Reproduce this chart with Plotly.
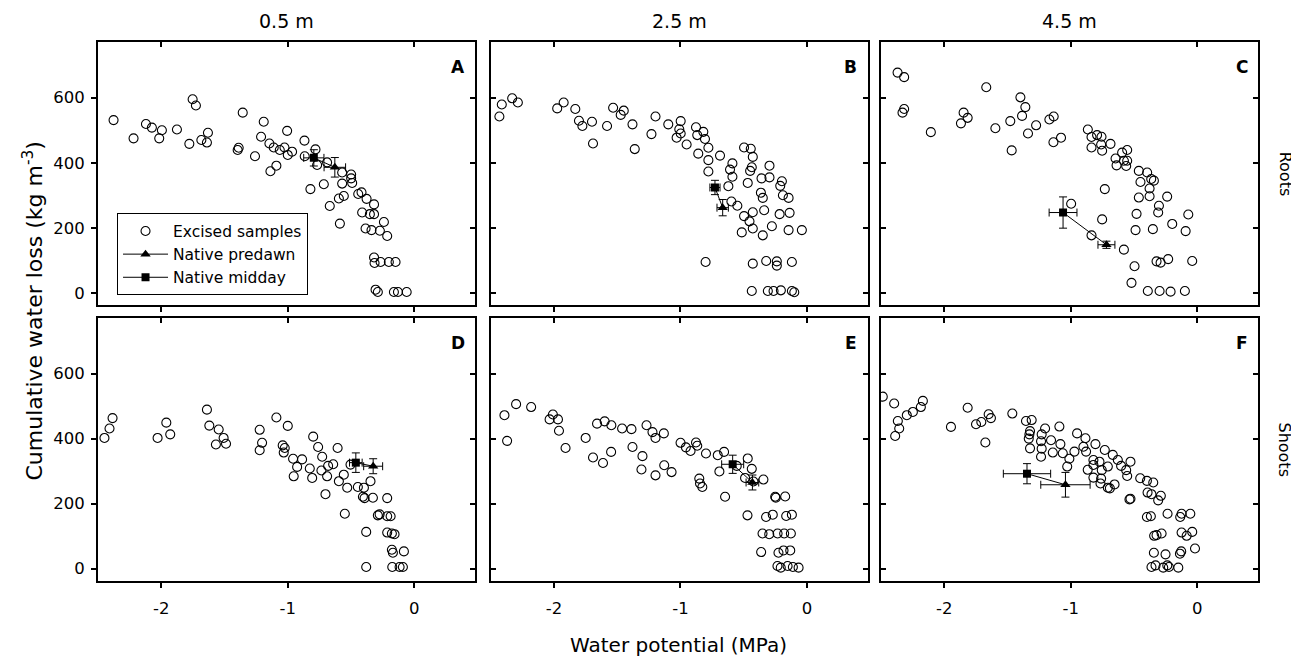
import plotly.graph_objects as go

# ---------------- data (water potential MPa, cumulative water loss kg m-3) -------------
A_psi = [-2.377,-2.219,-2.121,-2.074,-1.995,-2.016,-1.876,-1.752,-1.726,-1.778,-1.683,-1.631,-1.639,
         -1.356,-1.396,-1.388,-1.259,-1.190,-1.211,-1.005,-1.145,-1.111,-1.063,-1.026,-1.000,-0.966,
         -1.137,-1.090,-0.868,-0.781,-0.866,-0.821,-0.768,-0.715,-0.668,-0.689,-0.588,-0.596,-0.557,
         -0.570,-0.570,-0.499,-0.499,-0.491,-0.443,-0.417,-0.377,-0.412,-0.318,-0.351,-0.318,-0.385,
         -0.338,-0.272,-0.240,-0.214,-0.318,-0.314,-0.266,-0.201,-0.148,-0.306,-0.288,-0.161,-0.129,-0.060]
A_loss = [531,475,519,508,500,475,502,595,576,458,470,492,462,554,439,446,420,526,480,498,459,447,439,447,
          424,434,374,391,468,441,420,319,393,334,267,401,213,290,298,370,336,364,352,338,304,309,289,247,
          272,242,242,198,193,191,218,175,109,92,95,95,95,10,3,3,3,3]

B_psi = [-2.431,-2.412,-2.330,-2.285,-1.974,-1.923,-1.831,-1.802,-1.775,-1.699,-1.691,-1.580,-1.532,-1.472,
         -1.448,-1.379,-1.361,-1.229,-1.197,-1.096,-0.998,-1.009,-0.998,-1.030,-0.951,-0.877,-0.867,-0.819,
         -0.806,-0.779,-0.859,-0.779,-0.779,-0.687,-0.589,-0.608,-0.589,-0.621,-0.597,-0.550,-0.497,-0.444,
         -0.428,-0.436,-0.449,-0.468,-0.359,-0.296,-0.296,-0.364,-0.349,-0.338,-0.211,-0.198,-0.190,-0.145,
         -0.497,-0.454,-0.428,-0.428,-0.515,-0.349,-0.277,-0.216,-0.137,-0.145,-0.040,-0.801,-0.428,-0.322,
         -0.238,-0.238,-0.119,-0.436,-0.309,-0.264,-0.206,-0.119,-0.100]
B_loss = [542,579,598,585,567,585,565,529,513,526,459,513,569,547,560,518,442,488,542,518,528,503,490,477,
          456,509,485,495,473,446,428,408,373,422,398,379,357,328,281,268,447,443,418,386,375,338,352,355,
          391,308,292,254,329,343,300,292,236,220,248,198,186,177,205,242,246,193,193,95,90,98,97,84,95,
          6,6,6,8,6,2]

C_psi = [-2.369,-2.317,-2.317,-2.330,-2.106,-1.868,-1.847,-1.815,-1.668,-1.596,-1.478,-1.467,-1.398,-1.359,
         -1.385,-1.338,-1.274,-1.169,-1.135,-1.137,-1.077,-0.865,-0.836,-0.836,-0.792,-0.757,-0.760,-0.752,
         -0.686,-0.646,-0.638,-0.594,-0.554,-0.580,-0.562,-0.554,-0.462,-0.396,-0.449,-0.364,-0.343,-0.377,
         -0.462,-0.377,-0.238,-0.303,-0.309,-0.480,-0.488,-0.351,-0.198,-0.071,-0.092,-0.731,-0.997,-0.752,
         -0.836,-0.580,-0.496,-0.520,-0.322,-0.290,-0.230,-0.040,-0.391,-0.298,-0.211,-0.098]
C_loss = [677,663,565,554,494,521,554,538,632,506,528,438,601,571,544,490,515,533,542,463,477,502,479,447,
          485,480,456,437,458,413,392,431,439,406,390,406,375,370,341,350,345,321,293,297,296,268,247,243,
          193,196,212,241,190,319,274,226,177,133,82,31,97,93,104,98,6,6,4,6]

D_psi = [-2.449,-2.409,-2.385,-2.029,-1.960,-1.929,-1.639,-1.620,-1.546,-1.507,-1.568,-1.488,-1.222,-1.203,
         -1.222,-1.090,-1.000,-1.040,-1.024,-1.032,-0.958,-0.887,-0.926,-0.953,-0.826,-0.807,-0.799,-0.760,
         -0.728,-0.734,-0.681,-0.689,-0.641,-0.702,-0.606,-0.596,-0.557,-0.530,-0.504,-0.549,-0.446,-0.398,
         -0.406,-0.393,-0.327,-0.346,-0.380,-0.380,-0.288,-0.274,-0.214,-0.214,-0.187,-0.214,-0.177,-0.156,
         -0.177,-0.169,-0.082,-0.174,-0.116,-0.090]
D_loss = [402,431,463,402,449,413,489,440,428,402,382,384,427,387,364,465,439,379,371,357,338,336,313,284,
          308,279,406,374,344,302,316,284,321,229,371,269,289,249,320,169,251,249,221,217,218,269,113,5,
          164,167,217,161,161,111,108,106,58,49,53,5,5,5]

E_psi = [-2.391,-2.370,-2.299,-2.180,-2.034,-2.008,-1.968,-1.960,-1.908,-1.749,-1.691,-1.659,-1.612,-1.599,
         -1.546,-1.548,-1.461,-1.387,-1.379,-1.308,-1.300,-1.268,-1.221,-1.197,-1.197,-1.131,-1.128,-1.070,
         -0.999,-0.957,-0.920,-0.877,-0.867,-0.851,-0.845,-0.827,-0.798,-0.705,-0.655,-0.692,-0.647,-0.555,
         -0.489,-0.468,-0.436,-0.423,-0.344,-0.470,-0.323,-0.270,-0.251,-0.246,-0.172,-0.164,-0.119,-0.351,
         -0.298,-0.232,-0.180,-0.127,-0.362,-0.225,-0.185,-0.132,-0.233,-0.207,-0.153,-0.111,-0.066]
E_loss = [472,393,506,497,459,474,459,424,371,402,342,446,325,453,441,359,431,429,374,305,346,441,420,402,
          287,416,318,297,387,373,362,388,378,277,262,251,354,349,359,299,221,316,279,339,307,268,274,164,
          159,166,221,218,222,162,166,108,106,108,108,108,51,49,56,56,8,3,8,5,3]

F_psi = [-2.486,-2.396,-2.388,-2.356,-2.367,-2.296,-2.248,-2.185,-2.169,-1.947,-1.815,-1.749,-1.707,-1.649,
         -1.631,-1.675,-1.462,-1.354,-1.309,-1.322,-1.327,-1.332,-1.322,-1.230,-1.235,-1.230,-1.235,-1.203,
         -1.156,-1.142,-1.090,-1.082,-1.063,-1.011,-1.028,-0.971,-0.950,-0.900,-0.884,-0.879,-0.805,-0.866,
         -0.821,-0.821,-0.821,-0.773,-0.755,-0.760,-0.765,-0.731,-0.707,-0.707,-0.691,-0.654,-0.668,-0.628,
         -0.602,-0.562,-0.554,-0.528,-0.528,-0.536,-0.451,-0.398,-0.348,-0.393,-0.362,-0.309,-0.288,-0.398,
         -0.367,-0.235,-0.135,-0.124,-0.055,-0.341,-0.322,-0.282,-0.124,-0.084,-0.040,-0.018,-0.343,-0.251,
         -0.137,-0.127,-0.362,-0.330,-0.269,-0.237,-0.224,-0.150]
F_loss = [529,508,408,431,454,472,482,497,516,436,495,444,451,475,463,388,477,454,457,423,413,400,370,413,
          392,369,344,431,395,357,437,383,355,338,314,360,416,375,401,360,383,304,334,319,280,329,303,277,
          262,365,314,249,247,259,350,334,316,303,285,329,215,213,278,270,265,234,229,210,224,159,161,169,
          159,169,169,101,103,108,111,101,113,62,49,44,46,53,5,10,3,10,5,3]

# native plants (panels A..F): mean and standard-error bars
predawn_psi  = [-0.628, -0.666, -0.718, -0.325, -0.431, -1.042]
predawn_loss = [386, 262, 148, 315, 265, 258]
predawn_psi_err  = [0.085, 0.045, 0.067, 0.075, 0.05, 0.195]
predawn_loss_err = [30, 25, 11, 23, 23, 38]
midday_psi  = [-0.794, -0.727, -1.061, -0.462, -0.587, -1.346]
midday_loss = [415, 324, 247, 326, 321, 292]
midday_psi_err  = [0.08, 0.04, 0.11, 0.05, 0.087, 0.187]
midday_loss_err = [25, 22, 48, 30, 28, 31]

panel_letters = ["A", "B", "C", "D", "E", "F"]
depth_labels = ["0.5 m", "2.5 m", "4.5 m"]
organ_labels = ["Roots", "Shoots"]
x_ticks = [-2, -1, 0]
x_ticktext = ["-2", "-1", "0"]
y_ticks = [0, 200, 400, 600]

excised = [(A_psi, A_loss), (B_psi, B_loss), (C_psi, C_loss),
           (D_psi, D_loss), (E_psi, E_loss), (F_psi, F_loss)]

# ---------------- figure ----------------
FONT = "DejaVu Sans"
fig = go.Figure()

xdom = [[0.0, 0.325], [0.3385, 0.6635], [0.675, 1.0]]
ydom = [[0.5115, 1.0], [0.0, 0.488]]
XR = [-2.5, 0.48]
YR = [-38, 771]

layout_axes = {}
for i in range(6):
    n = i + 1
    col, row = i % 3, i // 3
    xa = "x" if n == 1 else f"x{n}"
    ya = "y" if n == 1 else f"y{n}"
    xkey = "xaxis" if n == 1 else f"xaxis{n}"
    ykey = "yaxis" if n == 1 else f"yaxis{n}"

    px, py = excised[i]
    fig.add_trace(go.Scatter(
        x=px, y=py, mode="markers", name="Excised samples", showlegend=(i == 0),
        marker=dict(symbol="circle", size=9, color="rgba(0,0,0,0)",
                    line=dict(color="black", width=1.1)),
        xaxis=xa, yaxis=ya))
    fig.add_trace(go.Scatter(
        x=[midday_psi[i], predawn_psi[i]], y=[midday_loss[i], predawn_loss[i]],
        mode="lines", line=dict(color="black", width=1), showlegend=False,
        hoverinfo="skip", xaxis=xa, yaxis=ya))
    fig.add_trace(go.Scatter(
        x=[predawn_psi[i]], y=[predawn_loss[i]], mode="lines+markers",
        name="Native predawn", showlegend=(i == 0),
        marker=dict(symbol="triangle-up", size=9, color="black"),
        line=dict(color="black", width=1),
        error_x=dict(type="data", array=[predawn_psi_err[i]], color="black", thickness=1, width=4),
        error_y=dict(type="data", array=[predawn_loss_err[i]], color="black", thickness=1, width=4),
        xaxis=xa, yaxis=ya))
    fig.add_trace(go.Scatter(
        x=[midday_psi[i]], y=[midday_loss[i]], mode="lines+markers",
        name="Native midday", showlegend=(i == 0),
        marker=dict(symbol="square", size=8, color="black"),
        line=dict(color="black", width=1),
        error_x=dict(type="data", array=[midday_psi_err[i]], color="black", thickness=1, width=4),
        error_y=dict(type="data", array=[midday_loss_err[i]], color="black", thickness=1, width=4),
        xaxis=xa, yaxis=ya))

    common = dict(showgrid=False, zeroline=False, tickcolor="black", ticklen=5, tickwidth=1.5,
                  tickfont=dict(family=FONT, size=16.5, color="black"))
    layout_axes[xkey] = dict(domain=xdom[col], anchor=ya, range=XR, tickvals=x_ticks,
                             ticktext=x_ticktext, ticks="outside", showticklabels=(row == 1),
                             ticklabelstandoff=6,
                             showline=True, linecolor="black", linewidth=2, mirror=True, **common)
    layout_axes[ykey] = dict(domain=ydom[row], anchor=xa, range=YR, tickvals=y_ticks,
                             ticks="outside" if col == 0 else "inside", showticklabels=(col == 0),
                             ticklabelstandoff=3,
                             showline=True, linecolor="black", linewidth=2, mirror=True, **common)
    # overlay axes for inward ticks on top and right
    ox = f"x{n + 6}"
    oy = f"y{n + 6}"
    layout_axes[f"xaxis{n + 6}"] = dict(overlaying=xa, anchor=ya, side="top", range=XR,
                                         tickvals=x_ticks, ticks="inside", showticklabels=False,
                                         showline=False, **common)
    layout_axes[f"yaxis{n + 6}"] = dict(overlaying=ya, anchor=xa, side="right", range=YR,
                                         tickvals=y_ticks, ticks="inside", showticklabels=False,
                                         showline=False, **common)
    fig.add_trace(go.Scatter(x=[None], y=[None], xaxis=ox, yaxis=ya, showlegend=False, hoverinfo="skip"))
    fig.add_trace(go.Scatter(x=[None], y=[None], xaxis=xa, yaxis=oy, showlegend=False, hoverinfo="skip"))

annotations = []
for i in range(6):
    n = i + 1
    xa = "x" if n == 1 else f"x{n}"
    ya = "y" if n == 1 else f"y{n}"
    annotations.append(dict(text=f"<b>{panel_letters[i]}</b>", xref=f"{xa} domain", yref=f"{ya} domain",
                            x=0.978, y=0.905, xanchor="right", yanchor="middle", showarrow=False,
                            font=dict(family=FONT, size=17, color="black")))
for c in range(3):
    xa = "x" if c == 0 else f"x{c + 1}"
    annotations.append(dict(text=depth_labels[c], xref=f"{xa} domain", yref="paper", x=0.5, y=1,
                            xanchor="center", yanchor="bottom", yshift=8, showarrow=False,
                            font=dict(family=FONT, size=19, color="black")))
for r in range(2):
    ya = "y" if r == 0 else "y4"
    annotations.append(dict(text=organ_labels[r], xref="paper", yref=f"{ya} domain", x=1, y=0.5,
                            xanchor="center", yanchor="middle", xshift=27, textangle=90,
                            showarrow=False, font=dict(family=FONT, size=16, color="black")))
annotations.append(dict(text="Water potential (MPa)", xref="paper", yref="paper", x=0.5, y=0,
                        xanchor="center", yanchor="middle", yshift=-64, showarrow=False,
                        font=dict(family=FONT, size=20, color="black")))
annotations.append(dict(text="Cumulative water loss (kg m<sup>-3</sup>)", xref="paper", yref="paper",
                        x=0, y=0.5, xanchor="center", yanchor="middle", xshift=-66, textangle=-90,
                        showarrow=False, font=dict(family=FONT, size=22, color="black")))

# the page body adds an 8 px margin, so the figure is sized to keep the plot frames in place
fig.update_layout(
    width=1291, height=649,
    margin=dict(l=90, r=41, t=34, b=76),
    paper_bgcolor="white", plot_bgcolor="white",
    font=dict(family=FONT, color="black"),
    showlegend=True,
    legend=dict(x=0.0164, y=0.682, xanchor="left", yanchor="top",
                bordercolor="black", borderwidth=1, bgcolor="white", itemwidth=45,
                font=dict(family=FONT, size=15.5, color="black"), traceorder="normal"),
    annotations=annotations,
    **layout_axes,
)

fig.write_html("out.html")
